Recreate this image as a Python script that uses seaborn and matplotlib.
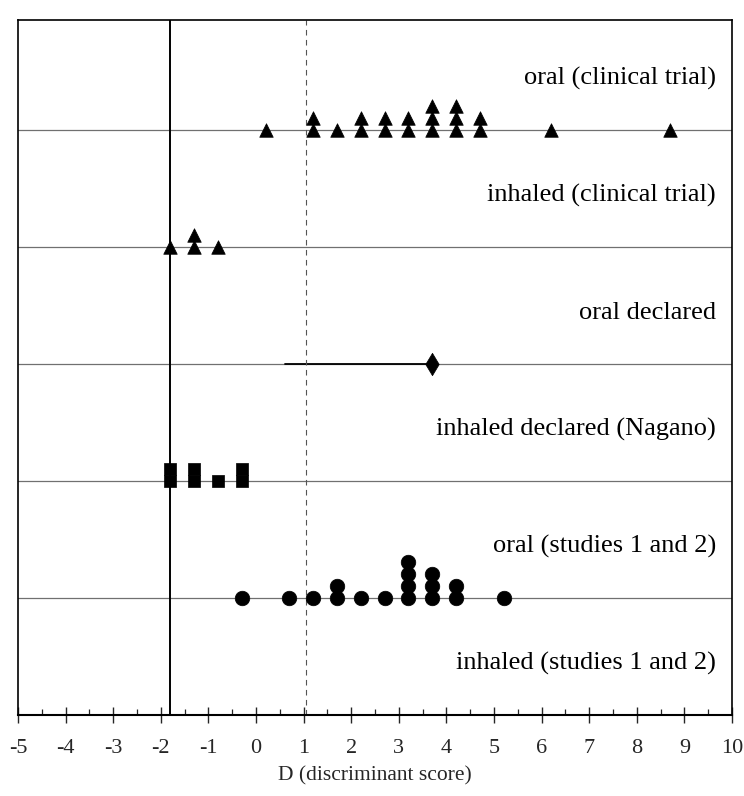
import numpy as np
import pandas as pd
import matplotlib
matplotlib.use("Agg")
import matplotlib.pyplot as plt
import seaborn as sns

# ---- data ----
row_labels = ["oral (clinical trial)", "inhaled (clinical trial)", "oral declared",
              "inhaled declared (Nagano)", "oral (studies 1 and 2)", "inhaled (studies 1 and 2)"]

oral_ct_vals = [0.2, 1.2, 1.7, 2.2, 2.7, 3.2, 3.7, 4.2, 4.7, 6.2, 8.7]
oral_ct_counts = [1, 2, 1, 2, 2, 2, 3, 3, 2, 1, 1]

inhaled_ct_vals = [-1.8, -1.3, -0.8]
inhaled_ct_counts = [1, 2, 1]

oral_decl_vals = [3.7]
oral_decl_counts = [1]
oral_decl_segment = [0.6, 3.7]

inhaled_decl_vals = [-1.8, -1.3, -0.8, -0.3]
inhaled_decl_counts = [2, 2, 1, 2]

oral_st_vals = [-0.3, 0.7, 1.2, 1.7, 2.2, 2.7, 3.2, 3.7, 4.2, 5.2]
oral_st_counts = [1, 1, 1, 2, 1, 1, 4, 3, 2, 1]

cutoff_solid = -1.8
cutoff_dashed = 1.05

xticks = list(range(-5, 11))

# ---- build table ----
groups = [
    (oral_ct_vals, oral_ct_counts, "tri"),
    (inhaled_ct_vals, inhaled_ct_counts, "tri"),
    (oral_decl_vals, oral_decl_counts, "dia"),
    (inhaled_decl_vals, inhaled_decl_counts, "sq"),
    (oral_st_vals, oral_st_counts, "circ"),
    ([], [], "circ"),
]
n_rows = len(row_labels)
row_pos = {i: n_rows - 1 - i for i in range(n_rows)}
stack_step = 0.103

recs = []
for i, (vals, cnts, kind) in enumerate(groups):
    for v, c in zip(vals, cnts):
        for k in range(c):
            recs.append({"x": v, "y": row_pos[i] + k * stack_step, "kind": kind})
df = pd.DataFrame(recs)

sns.set_style("white")
plt.rcParams["font.family"] = ["Liberation Serif", "DejaVu Serif"]

fig = plt.figure(figsize=(7.44, 7.96), dpi=100)
ax = fig.add_axes([18 / 744, 1 - 715 / 796, 714 / 744, 695 / 796])

# row lines
for i in range(n_rows - 1):
    ax.axhline(row_pos[i], color="#707070", lw=0.9, zorder=1)
ax.plot(oral_decl_segment, [row_pos[2]] * 2, color="black", lw=1.3, zorder=2)

ax.axvline(cutoff_solid, color="black", lw=1.4, zorder=2)
ax.axvline(cutoff_dashed, color="#555555", lw=0.8, ls=(0, (5, 4)), zorder=2)

markers = {"tri": "^", "dia": "d", "sq": "s", "circ": "o"}
sizes = {"tri": 95, "dia": 130, "sq": 85, "circ": 110}
for kind in ["tri", "dia", "sq", "circ"]:
    sub = df[df["kind"] == kind]
    if len(sub):
        sns.scatterplot(data=sub, x="x", y="y", marker=markers[kind], s=sizes[kind],
                        color="black", edgecolor="black", linewidth=0.5, ax=ax,
                        zorder=3, legend=False)

for i, lab in enumerate(row_labels):
    ax.text(9.66, row_pos[i] + 0.385, lab, ha="right", va="baseline", fontsize=19,
            color="black")

ax.set_xlim(-5, 10)
ax.set_ylim(0, 5.94)
ax.set_xticks(xticks)
ax.set_xticklabels([str(t) for t in xticks])
ax.set_xticks(np.arange(-4.5, 10, 1.0), minor=True)
ax.set_yticks([])
ax.tick_params(axis="x", which="major", direction="inout", length=11, width=1,
               labelsize=16, pad=12, bottom=True)
ax.tick_params(axis="x", which="minor", direction="in", length=4, width=0.9, bottom=True)
ax.set_xlabel("D (discriminant score)", fontsize=15.5, labelpad=6)
ax.set_ylabel("")
for s in ax.spines.values():
    s.set_visible(True)
    s.set_color("black")
    s.set_linewidth(1.2)
ax.spines["bottom"].set_linewidth(1.5)

fig.savefig("out.png", dpi=100, facecolor="white")
